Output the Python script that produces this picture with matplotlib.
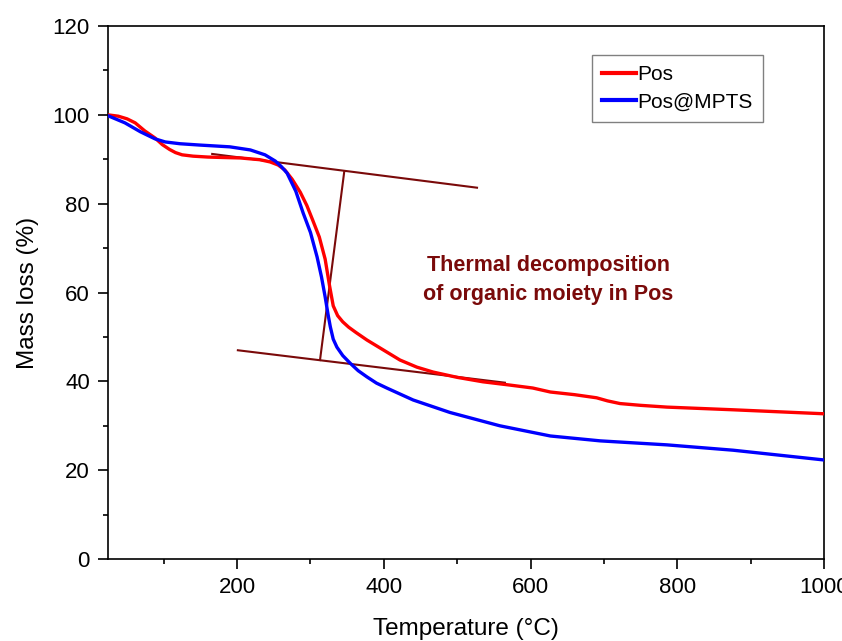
import matplotlib
matplotlib.use('Agg')
import matplotlib.pyplot as plt
from matplotlib.ticker import MultipleLocator

plt.rcParams.update({
    'font.family': ['Liberation Sans', 'DejaVu Sans'],
    'font.size': 15,
    'axes.linewidth': 1.2,
})

DARK_RED = '#7a0a0a'

# TGA curves: temperature (°C) vs remaining mass (%)
temp_pos = [24, 38, 50, 61, 74, 88, 98, 108, 116, 125, 140, 160, 180, 204, 231,
            245, 256, 265, 275, 286, 295, 303, 312, 320, 326, 331, 337, 344,
            352, 362, 377, 400, 422, 445, 467, 500, 535, 570, 603, 627, 660,
            690, 705, 722, 750, 786, 876, 1000]
mass_pos = [100, 99.7, 99.1, 98.2, 96.4, 94.8, 93.3, 92.2, 91.5, 91.0, 90.7,
            90.5, 90.4, 90.3, 89.9, 89.4, 88.7, 87.6, 85.5, 82.6, 79.6, 76.3,
            72.5, 67.5, 61.5, 57.0, 54.8, 53.4, 52.2, 51.0, 49.3, 47.0, 44.8,
            43.2, 42.1, 40.9, 39.9, 39.2, 38.5, 37.6, 37.0, 36.3, 35.6, 35.0,
            34.6, 34.2, 33.6, 32.7]

temp_mpts = [24, 47, 68, 88, 102, 122, 149, 190, 218, 238, 252, 260, 268, 280,
             290, 300, 309, 315, 320, 324, 327, 331, 336, 344, 354, 365, 377,
             390, 404, 440, 490, 558, 627, 695, 786, 876, 1000]
mass_mpts = [99.8, 98.2, 96.2, 94.6, 93.9, 93.5, 93.2, 92.8, 92.1, 91.0, 89.6,
             88.4, 86.9, 82.8, 77.9, 73.5, 68.0, 63.5, 59.0, 55.0, 52.3, 49.5,
             47.7, 45.8, 44.1, 42.4, 41.0, 39.6, 38.5, 35.8, 33.0, 30.0, 27.7,
             26.6, 25.7, 24.5, 22.3]

# tangent construction for the main decomposition step
upper_x, upper_y = [166, 527], [91.2, 83.6]
lower_x, lower_y = [201, 565], [47.0, 39.7]
step_x, step_y = [346, 313], [87.2, 44.8]

fig = plt.figure(figsize=(8.42, 6.41), dpi=100)
ax = fig.add_axes([0.1283, 0.1279, 0.8503, 0.8315])

ax.plot(temp_pos, mass_pos, color='#ff0000', lw=2.4, label='Pos', zorder=3,
        solid_joinstyle='round')
ax.plot(temp_mpts, mass_mpts, color='#0000ff', lw=2.4, label='Pos@MPTS', zorder=3,
        solid_joinstyle='round')

for xs, ys in [(upper_x, upper_y), (lower_x, lower_y), (step_x, step_y)]:
    ax.plot(xs, ys, color=DARK_RED, lw=1.5, zorder=2)

ax.text(624, 62.8, 'Thermal decomposition\nof organic moiety in Pos',
        color=DARK_RED, fontsize=15.5, fontweight='bold', ha='center',
        va='center', linespacing=1.55)

ax.set_xlim(24, 1000)
ax.set_ylim(0, 120)
ax.xaxis.set_major_locator(MultipleLocator(200))
ax.xaxis.set_minor_locator(MultipleLocator(100))
ax.yaxis.set_major_locator(MultipleLocator(20))
ax.yaxis.set_minor_locator(MultipleLocator(10))
ax.tick_params(which='major', direction='out', length=7, width=1.2, pad=6,
               labelsize=16)
ax.tick_params(which='minor', direction='out', length=3.5, width=1.2)
ax.tick_params(top=False, right=False, which='both')

ax.set_xlabel('Temperature (°C)', fontsize=17.5, labelpad=14)
ax.set_ylabel('Mass loss (%)', fontsize=17.5, labelpad=10)

leg = ax.legend(loc='upper left', bbox_to_anchor=(0.676, 0.9456), fontsize=15,
                handlelength=1.6, handletextpad=0.08, borderpad=0.5,
                labelspacing=0.4, fancybox=False, framealpha=1,
                edgecolor='#808080', borderaxespad=0)
leg.get_frame().set_linewidth(1.0)
for line in leg.get_lines():
    line.set_linewidth(3)

fig.savefig('out.png', dpi=100)
